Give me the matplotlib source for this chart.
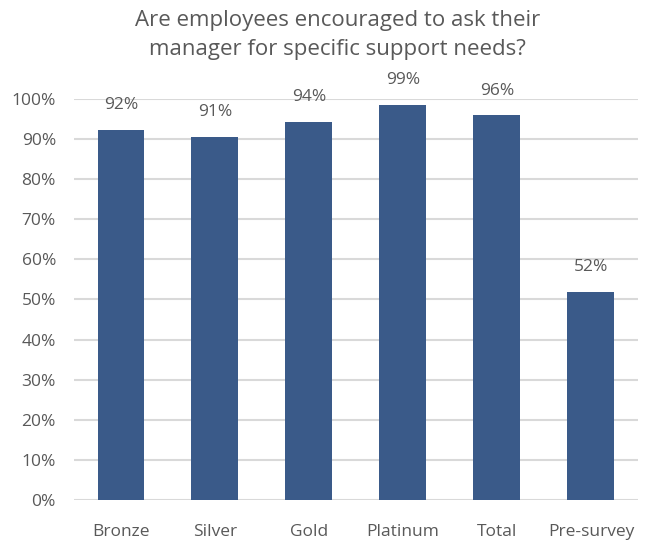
import matplotlib
matplotlib.use("Agg")
import matplotlib.pyplot as plt
from matplotlib.ticker import PercentFormatter

plt.rcParams['font.family'] = ['Open Sans', 'DejaVu Sans']

categories = ["Bronze", "Silver", "Gold", "Platinum", "Total", "Pre-survey"]
share_yes = [92.3, 90.6, 94.3, 98.6, 95.9, 51.8]

title = "Are employees encouraged to ask their\nmanager for specific support needs?"
text_col = "#595959"
bar_col = "#3A5A89"

fig = plt.figure(figsize=(6.52, 5.40), dpi=100)
ax = fig.add_axes([0.1135, 0.0741, 0.865, 0.7426])

x = range(len(categories))
bars = ax.bar(x, share_yes, width=0.5, color=bar_col, zorder=3)

for b, v in zip(bars, share_yes):
    ax.text(b.get_x() + b.get_width() / 2, v + 6.2, "{:.0f}%".format(v),
            ha="center", va="center", fontsize=12.5, color=text_col, clip_on=False)

ax.set_ylim(0, 100)
ax.set_xlim(-0.5, len(categories) - 0.5)
ax.set_yticks(range(0, 101, 10))
ax.yaxis.set_major_formatter(PercentFormatter(decimals=0))
ax.set_xticks(list(x))
ax.set_xticklabels(categories)
ax.yaxis.grid(True, color="#D9D9D9", linewidth=1.5, zorder=0)
ax.tick_params(axis="both", length=0, labelsize=12.5, colors=text_col)
ax.tick_params(axis="x", pad=17)
ax.tick_params(axis="y", pad=13)
for s in ax.spines.values():
    s.set_visible(False)

fig.text(0.518, 0.935, title, ha="center", va="center", fontsize=16,
         color=text_col, linespacing=1.5)

fig.savefig("out.png", dpi=100)
